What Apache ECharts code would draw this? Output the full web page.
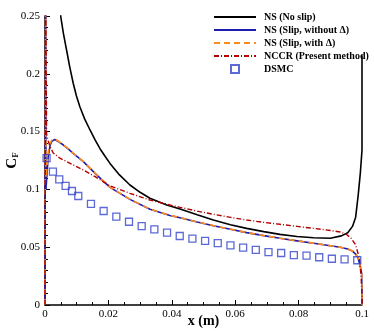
<!DOCTYPE html>
<html><head><meta charset="utf-8">
<script src="https://cdn.jsdelivr.net/npm/echarts@6/dist/echarts.min.js"></script>
<style>html,body{margin:0;padding:0;background:#fff}#c{width:374px;height:332px}</style>
</head><body><div id="c"></div>
<script>
// x (m), Cf pairs
const nsNoSlip = [[0.0045,0.27],[0.005,0.249],[0.0058,0.235],[0.0068,0.2206],[0.0078,0.206],[0.0089,0.1918],[0.0099,0.181],[0.011,0.1715],[0.0125,0.161],[0.0142,0.1514],[0.0158,0.1428],[0.0174,0.1350],[0.0190,0.1285],[0.0205,0.1225],[0.0235,0.1125],[0.0268,0.1038],[0.0300,0.0975],[0.0331,0.0923],[0.0384,0.0865],[0.0426,0.0830],[0.0480,0.0780],[0.0531,0.0735],[0.0585,0.0695],[0.0636,0.0663],[0.0690,0.0635],[0.0741,0.0611],[0.0795,0.0593],[0.0847,0.0582],[0.0900,0.0578],[0.0935,0.0598],[0.0955,0.0625],[0.0970,0.0680],[0.0980,0.0760],[0.0988,0.0950],[0.0995,0.115],[0.1,0.134],[0.1,0.216]];
const nsSlipNoDelta = [[0,0],[0.0002,0.27],[0.0003,0.1],[0.0005,0.108],[0.001,0.128],[0.0016,0.138],[0.0021,0.1415],[0.0026,0.1427],[0.0031,0.1432],[0.0037,0.1427],[0.0047,0.1405],[0.0058,0.1384],[0.0073,0.1350],[0.0089,0.1312],[0.0121,0.124],[0.0158,0.1139],[0.0205,0.1018],[0.0268,0.0914],[0.0331,0.0828],[0.0394,0.0775],[0.0426,0.0755],[0.0480,0.0718],[0.0531,0.0686],[0.0585,0.0655],[0.0636,0.0626],[0.0690,0.0600],[0.0741,0.0577],[0.0795,0.0555],[0.0847,0.0534],[0.0900,0.0512],[0.0931,0.0499],[0.0955,0.0484],[0.0970,0.0466],[0.0980,0.0440],[0.0988,0.0404],[0.0994,0.034],[0.0999,0.0274],[0.1,0.007],[0.1,0]];
const nsSlipDelta = [[0,0],[0.0002,0.27],[0.0003,0.11],[0.0005,0.115],[0.001,0.132],[0.0016,0.14],[0.0021,0.1425],[0.0026,0.1435],[0.0031,0.1437],[0.0037,0.1432],[0.0047,0.1408],[0.0058,0.1386],[0.0073,0.1352],[0.0089,0.1313],[0.0121,0.1241],[0.0158,0.1140],[0.0205,0.1019],[0.0268,0.0915],[0.0331,0.0829],[0.0394,0.0776],[0.0426,0.0756],[0.0480,0.0719],[0.0531,0.0687],[0.0585,0.0656],[0.0636,0.0627],[0.0690,0.0601],[0.0741,0.0578],[0.0795,0.0556],[0.0847,0.0535],[0.0900,0.0513],[0.0931,0.0500],[0.0955,0.0486],[0.0970,0.0468],[0.0980,0.0443],[0.0988,0.0407],[0.0994,0.0345],[0.0999,0.0278],[0.1,0.007],[0.1,0]];
const nccr = [[0,0],[0.0002,0.27],[0.0005,0.148],[0.001,0.142],[0.0016,0.137],[0.0026,0.1315],[0.0047,0.127],[0.0079,0.1226],[0.0121,0.1168],[0.0158,0.111],[0.0205,0.103],[0.0268,0.0966],[0.0331,0.0908],[0.0394,0.0865],[0.0426,0.0845],[0.0480,0.0812],[0.0531,0.0785],[0.0585,0.0758],[0.0636,0.0735],[0.0690,0.0715],[0.0741,0.0698],[0.0795,0.0680],[0.0847,0.0663],[0.0900,0.0645],[0.0931,0.0632],[0.0950,0.0612],[0.0965,0.0580],[0.0980,0.0520],[0.0992,0.0400],[0.0997,0.0250],[0.1,0.007],[0.1,0]];
const dsmcX = [0.0005,0.0025,0.0045,0.0065,0.0085,0.0105,0.0145,0.0185,0.0225,0.0265,0.0305,0.0345,0.0385,0.0425,0.0465,0.0505,0.0545,0.0585,0.0625,0.0665,0.0705,0.0745,0.0785,0.0825,0.0865,0.0905,0.0945,0.0985];
const dsmcY = [0.127,0.1153,0.1087,0.103,0.0986,0.0943,0.0874,0.0813,0.0764,0.072,0.0683,0.0655,0.0626,0.0597,0.0574,0.0554,0.0536,0.0516,0.0496,0.0476,0.0458,0.045,0.0432,0.0427,0.0413,0.040,0.0395,0.0387];
const seriesNames = ['NS (No slip)','NS (Slip, without \u0394)','NS (Slip, with \u0394)','NCCR (Present method)','DSMC'];

const serif = 'Liberation Serif';
const noSym = {opacity:0};
const chart = echarts.init(document.getElementById('c'));
chart.setOption({
  animation:false,
  backgroundColor:'#fff',
  grid:{left:45,right:12,top:16,bottom:27,containLabel:false,outerBoundsMode:'none'},
  legend:{
    orient:'vertical', left:213, top:12, padding:0, itemWidth:42, itemHeight:8, itemGap:3,
    textStyle:{fontFamily:serif, fontWeight:'bold', fontSize:10, lineHeight:10, color:'#000', padding:[0,0,0,3]},
    data:[
      {name:seriesNames[0], itemStyle:noSym},
      {name:seriesNames[1], itemStyle:noSym},
      {name:seriesNames[2], itemStyle:noSym},
      {name:seriesNames[3], itemStyle:noSym},
      {name:seriesNames[4], icon:'path://M0 0H10V10H0Z'}
    ]
  },
  xAxis:{
    type:'value', min:0, max:0.1, interval:0.02,
    name:'x (m)', nameLocation:'middle', nameGap:9, nameMoveOverlap:false,
    nameTextStyle:{fontFamily:serif, fontWeight:'bold', fontSize:14, color:'#000'},
    axisLine:{lineStyle:{color:'#000', width:1.5}},
    axisTick:{inside:true, length:5, lineStyle:{color:'#000', width:1}},
    minorTick:{show:true, splitNumber:4, length:3, lineStyle:{color:'#000', width:1}},
    axisLabel:{fontFamily:serif, fontSize:11, color:'#000', margin:4},
    splitLine:{show:false}
  },
  yAxis:{
    type:'value', min:0, max:0.25, interval:0.05,
    name:'{a|C}{b|F}', nameLocation:'middle', nameGap:25, nameRotate:90, nameMoveOverlap:false,
    nameTextStyle:{rich:{a:{fontFamily:serif, fontWeight:'bold', fontSize:15, color:'#000'}, b:{fontFamily:serif, fontWeight:'bold', fontSize:9, color:'#000', verticalAlign:'bottom', padding:[6,0,0,0]}}},
    axisLine:{show:true, lineStyle:{color:'#000', width:1.5}},
    axisTick:{show:true, inside:true, length:5, lineStyle:{color:'#000', width:1}},
    minorTick:{show:true, splitNumber:5, length:3, lineStyle:{color:'#000', width:1}},
    axisLabel:{fontFamily:serif, fontSize:11, color:'#000', margin:5},
    splitLine:{show:false}
  },
  series:[
    {name:seriesNames[0], type:'line', data:nsNoSlip, showSymbol:false, symbol:'none', lineStyle:{color:'#000', width:1.6}, itemStyle:{color:'#000'}, z:3},
    {name:seriesNames[1], type:'line', data:nsSlipNoDelta, showSymbol:false, symbol:'none', lineStyle:{color:'#1c1cb0', width:1.6}, itemStyle:{color:'#1c1cb0'}, z:2},
    {name:seriesNames[2], type:'line', data:nsSlipDelta, showSymbol:false, symbol:'none', lineStyle:{color:'#ff8c1a', width:1.6, type:[6,4]}, itemStyle:{color:'#ff8c1a'}, z:4},
    {name:seriesNames[3], type:'line', data:nccr, showSymbol:false, symbol:'none', lineStyle:{color:'#b00000', width:1.4, type:[5,2,1,2]}, itemStyle:{color:'#b00000'}, z:5},
    {name:seriesNames[4], type:'scatter', data:dsmcX.map((x,i)=>[x,dsmcY[i]]), symbol:'rect', symbolSize:7, itemStyle:{color:'rgba(0,0,0,0)', borderColor:'#3344cc', borderWidth:1.3}, z:6}
  ]
});
</script></body></html>
